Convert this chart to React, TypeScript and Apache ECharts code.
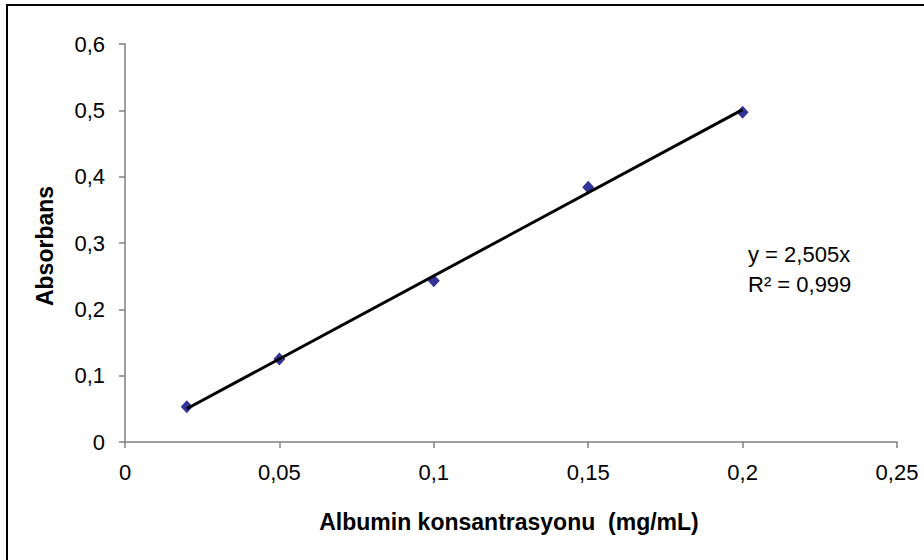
import React, { useEffect, useRef } from "react";
import * as echarts from "echarts";

const concentrations = [0.02, 0.05, 0.1, 0.15, 0.2];
const absorbances = [0.053, 0.125, 0.243, 0.384, 0.497];
const trendX = [0.02, 0.2];
const trendY = [0.0501, 0.501];
const xTicks = [0, 0.05, 0.1, 0.15, 0.2, 0.25];
const yTicks = [0, 0.1, 0.2, 0.3, 0.4, 0.5, 0.6];
const equationLines = ["y = 2,505x", "R² = 0,999"];
const xTitle = "Albumin konsantrasyonu  (mg/mL)";
const yTitle = "Absorbans";

const fmt = (v: number) => String(Number(v.toFixed(2))).replace(".", ",");

export default function App() {
  const ref = useRef<HTMLDivElement>(null);
  useEffect(() => {
    if (!ref.current) return;
    const chart = echarts.init(ref.current, null, { renderer: "svg" });
    const font = "Liberation Sans, Arial, sans-serif";
    chart.setOption({
      animation: false,
      backgroundColor: "#ffffff",
      grid: { left: 125, top: 44, right: 27, bottom: 118 },
      xAxis: {
        type: "value",
        min: xTicks[0],
        max: xTicks[xTicks.length - 1],
        interval: 0.05,
        splitLine: { show: false },
        axisLine: { lineStyle: { color: "#808080", width: 1.5 } },
        axisTick: { show: true, length: 6, lineStyle: { color: "#808080", width: 1.5 } },
        axisLabel: { formatter: fmt, color: "#000", fontSize: 22, fontFamily: font, margin: 19 },
      },
      yAxis: {
        type: "value",
        min: yTicks[0],
        max: yTicks[yTicks.length - 1],
        interval: 0.1,
        splitLine: { show: false },
        axisLine: { show: true, lineStyle: { color: "#808080", width: 1.5 } },
        axisTick: { show: true, length: 6, lineStyle: { color: "#808080", width: 1.5 } },
        axisLabel: { formatter: fmt, color: "#000", fontSize: 22, fontFamily: font, margin: 20 },
      },
      graphic: [
        {
          type: "rect",
          shape: { x: 7, y: 5, width: 1000, height: 1000 },
          style: { fill: "none", stroke: "#000", lineWidth: 2 },
          silent: true,
        },
        {
          type: "text",
          x: 509,
          y: 522,
          style: {
            text: xTitle,
            font: `bold 23px ${font}`,
            fill: "#000",
            align: "center",
            verticalAlign: "middle",
          },
        },
        {
          type: "text",
          x: 45,
          y: 246,
          rotation: Math.PI / 2,
          style: {
            text: yTitle,
            font: `bold 23px ${font}`,
            fill: "#000",
            align: "center",
            verticalAlign: "middle",
          },
        },
        {
          type: "text",
          x: 748,
          y: 254,
          style: {
            text: equationLines[0],
            font: `22px ${font}`,
            fill: "#000",
            align: "left",
            verticalAlign: "middle",
          },
        },
        {
          type: "text",
          x: 748,
          y: 284,
          style: {
            text: equationLines[1],
            font: `22px ${font}`,
            fill: "#000",
            align: "left",
            verticalAlign: "middle",
          },
        },
      ],
      series: [
        {
          type: "line",
          data: trendX.map((x, i) => [x, trendY[i]]),
          showSymbol: false,
          symbol: "none",
          lineStyle: { color: "#000", width: 3 },
          z: 3,
        },
        {
          type: "scatter",
          data: concentrations.map((x, i) => [x, absorbances[i]]),
          symbol: "diamond",
          symbolSize: [12, 13],
          itemStyle: { color: "#000080" },
          z: 2,
        },
      ],
    });
    return () => chart.dispose();
  }, []);
  return (
    <div
      ref={ref}
      style={{ position: "absolute", left: 0, top: 0, width: 924, height: 560 }}
    />
  );
}
